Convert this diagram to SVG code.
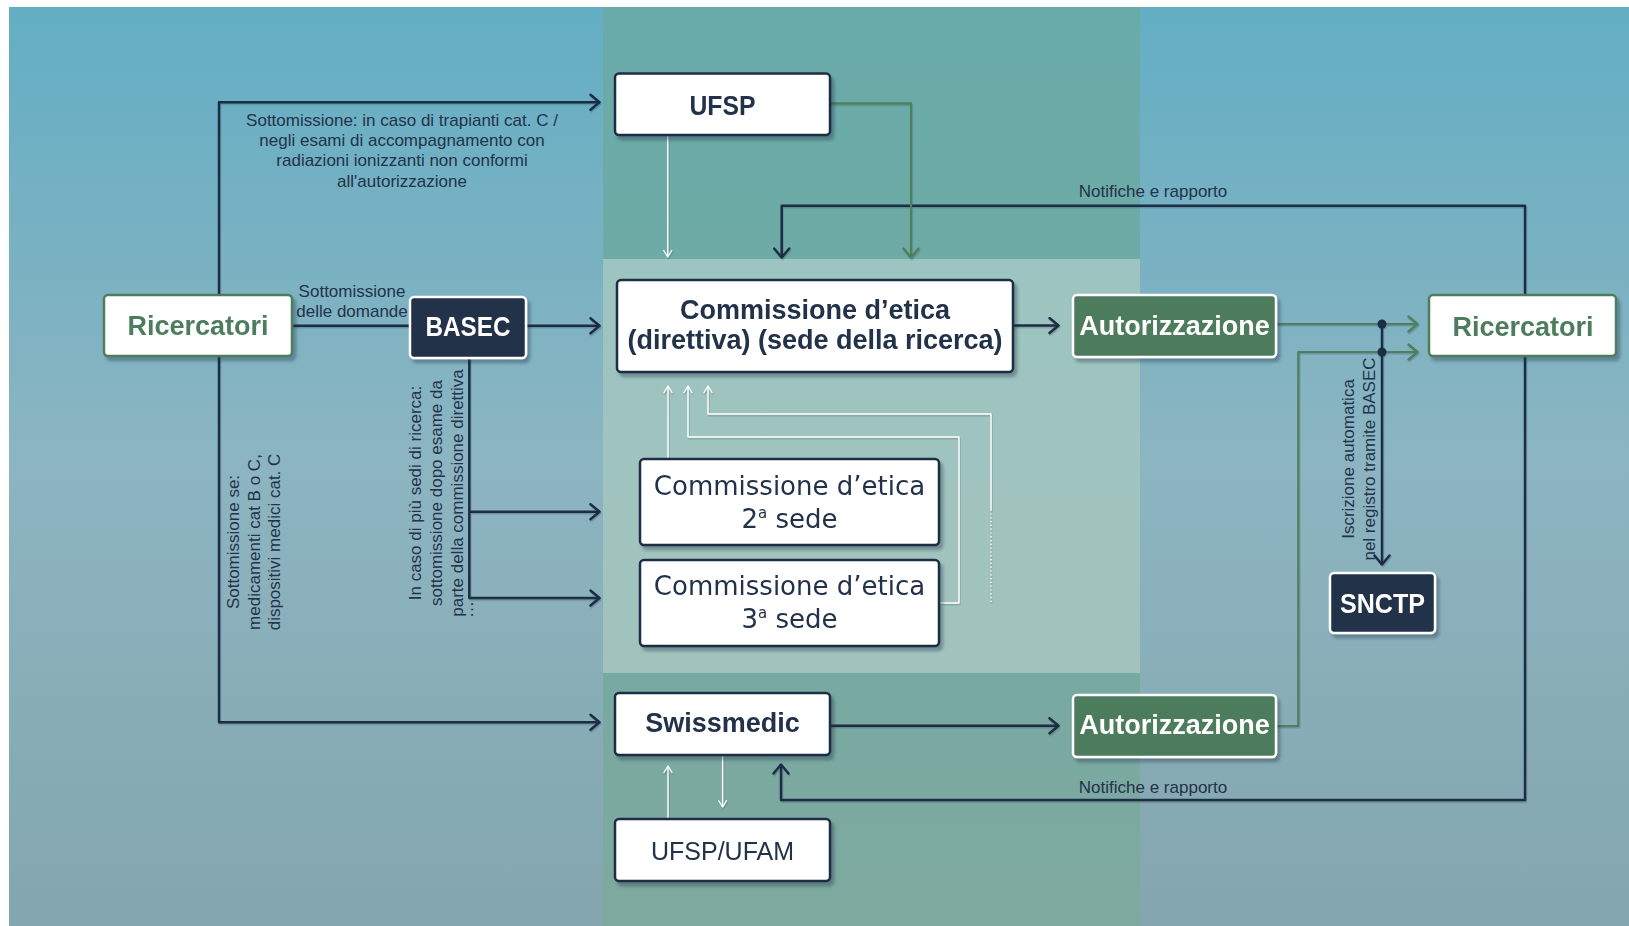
<svg xmlns="http://www.w3.org/2000/svg" width="1629" height="926" viewBox="0 0 1629 926">
<defs>
<linearGradient id="bgSide" x1="0" y1="0" x2="0" y2="1">
<stop offset="0" stop-color="#63aec4"/>
<stop offset="0.5" stop-color="#8cb5c1"/>
<stop offset="1" stop-color="#84a6ae"/>
</linearGradient>
<linearGradient id="bgMid" x1="0" y1="0" x2="0" y2="1">
<stop offset="0" stop-color="#68aba9"/>
<stop offset="1" stop-color="#7ea99f"/>
</linearGradient>
<linearGradient id="bgLight" x1="0" y1="0" x2="0" y2="1">
<stop offset="0" stop-color="#9dc4c0"/>
<stop offset="1" stop-color="#a2c3bd"/>
</linearGradient>
<marker id="ad" markerUnits="userSpaceOnUse" viewBox="0 0 12 18" markerWidth="12" markerHeight="18" refX="11" refY="9" orient="auto-start-reverse">
<path d="M1.5,1.5 L10.5,9 L1.5,16.5" fill="none" stroke="#1f2d45" stroke-width="2.5" stroke-linecap="round" stroke-linejoin="round"/>
</marker>
<marker id="ag" markerUnits="userSpaceOnUse" viewBox="0 0 12 18" markerWidth="12" markerHeight="18" refX="11" refY="9" orient="auto-start-reverse">
<path d="M1.5,1.5 L10.5,9 L1.5,16.5" fill="none" stroke="#4f7f5b" stroke-width="2.3" stroke-linecap="round" stroke-linejoin="round"/>
</marker>
<marker id="aw" markerUnits="userSpaceOnUse" viewBox="0 0 10 10" markerWidth="10" markerHeight="10" refX="8.5" refY="5" orient="auto">
<path d="M2,1 L8.5,5 L2,9" fill="none" stroke="#ffffff" stroke-width="1.3" stroke-linecap="round" stroke-linejoin="round"/>
</marker>
<filter id="bsh" x="-10%" y="-10%" width="130%" height="140%">
<feDropShadow dx="3" dy="4" stdDeviation="1.5" flood-color="#1e2d3c" flood-opacity="0.35"/>
</filter>
<filter id="lsh" x="-5%" y="-5%" width="110%" height="110%">
<feDropShadow dx="0.8" dy="1.5" stdDeviation="0.6" flood-color="#1e2d3c" flood-opacity="0.25"/>
</filter>
</defs>
<style>
.wb{fill:#ffffff;stroke:#1f2d45;stroke-width:2.5}
.gb{fill:#4e7b5b;stroke:#ffffff;stroke-width:2.5}
.db{fill:#22304a;stroke:#ffffff;stroke-width:2.5}
.rb{fill:#ffffff;stroke:#4e7d5c;stroke-width:2.5}
.lbl{font-family:"Liberation Sans",Arial,sans-serif;font-size:17px;fill:#24324a}
.bt{font-family:"Liberation Sans",Arial,sans-serif;font-weight:bold;font-size:27px;text-anchor:middle}
.nv{fill:#22304a}
.wt{fill:#ffffff}
.gt{fill:#4e7d5c}
.vt{font-family:"DejaVu Sans",Verdana,sans-serif;font-size:26px;fill:#22304a;text-anchor:middle}
.cd{fill:none;stroke:#1f2d45;stroke-width:2.5;stroke-linejoin:round}
.cg{fill:none;stroke:#4f7f5b;stroke-width:2.2;stroke-linejoin:round}
.cw{fill:none;stroke:#ffffff;stroke-width:1.4;stroke-linejoin:round}
</style>

<g id="background">
<rect x="0" y="0" width="1629" height="926" fill="#ffffff"/>
<rect x="9" y="7" width="1620" height="919" fill="url(#bgSide)"/>
<rect x="603" y="7" width="537" height="919" fill="url(#bgMid)"/>
<rect x="603" y="259" width="537" height="414" fill="url(#bgLight)"/>
</g>

<g id="connectors" filter="url(#lsh)">
<path class="cd" d="M292,325.7 H410"/>
<path class="cd" d="M526,325.7 H600" marker-end="url(#ad)"/>
<path class="cd" d="M219,325 V102.3 H600" marker-end="url(#ad)"/>
<path class="cd" d="M219,325 V722.3 H600" marker-end="url(#ad)"/>
<path class="cd" d="M469.3,358 V598 H600" marker-end="url(#ad)"/>
<path class="cd" d="M469.3,511.7 H600" marker-end="url(#ad)"/>
<path class="cd" d="M1013,325.5 H1059" marker-end="url(#ad)"/>
<path class="cd" d="M830,725.7 H1059" marker-end="url(#ad)"/>
<path class="cd" d="M781.7,258 V205.7 H1525 V800 H781 V764" marker-start="url(#ad)" marker-end="url(#ad)"/>
<path class="cd" d="M1382,324 V565" marker-end="url(#ad)"/>
<path class="cg" d="M1276,324 H1418" marker-end="url(#ag)"/>
<path class="cg" d="M1276,726 H1298.3 V352 H1418" marker-end="url(#ag)"/>
<path class="cg" d="M830,103.3 H911 V258" marker-end="url(#ag)"/>
<circle cx="1382" cy="324" r="4.5" fill="#1f2d45"/>
<circle cx="1382" cy="352" r="4.5" fill="#1f2d45"/>
<path class="cw" d="M667.7,135 V257" marker-end="url(#aw)"/>
<path class="cw" d="M668,459 V386" marker-end="url(#aw)"/>
<path class="cw" d="M940,603 H959 V437 H688 V386" marker-end="url(#aw)"/>
<path class="cw" d="M991,510 V414 H708 V386" marker-end="url(#aw)"/>
<path class="cw" d="M991,602 V510" stroke-dasharray="1.2 2.6"/>
<path class="cw" d="M668,818 V766" marker-end="url(#aw)"/>
<path class="cw" d="M722.6,756 V807" marker-end="url(#aw)"/>
</g>

<g id="labels">
<text class="lbl" text-anchor="middle" x="402" y="125.7">Sottomissione: in caso di trapianti cat. C /<tspan x="402" dy="20.3">negli esami di accompagnamento con</tspan><tspan x="402" dy="20.3">radiazioni ionizzanti non conformi</tspan><tspan x="402" dy="20.3">all'autorizzazione</tspan></text>
<text class="lbl" text-anchor="middle" x="352" y="297">Sottomissione<tspan x="352" dy="20">delle domande</tspan></text>
<text class="lbl" text-anchor="middle" transform="translate(239,542) rotate(-90)">Sottomissione se:<tspan x="0" dy="20.7">medicamenti cat B o C,</tspan><tspan x="0" dy="20.7">dispositivi medici cat. C</tspan></text>
<text class="lbl" text-anchor="middle" transform="translate(421,493) rotate(-90)">In caso di più sedi di ricerca:<tspan x="0" dy="21">sottomissione dopo esame da</tspan><tspan x="0" dy="21">parte della commissione direttiva</tspan></text>
<text class="lbl" transform="translate(472.5,618) rotate(-90)">…</text>
<text class="lbl" text-anchor="middle" font-size="16.5" transform="translate(1354,459) rotate(-90)">Iscrizione automatica<tspan x="0" dy="21">nel registro tramite BASEC</tspan></text>
<text class="lbl" text-anchor="middle" x="1153" y="197.3">Notifiche e rapporto</text>
<text class="lbl" text-anchor="middle" x="1153" y="793">Notifiche e rapporto</text>
</g>

<g id="ricercatori-left" filter="url(#bsh)">
<rect class="rb" x="104" y="295" width="188" height="61" rx="4"/>
<text class="bt gt" x="198" y="335">Ricercatori</text>
</g>
<g id="basec" filter="url(#bsh)">
<rect class="db" x="410" y="297" width="116" height="61" rx="4"/>
<text class="bt wt" x="468" y="336" textLength="85" lengthAdjust="spacingAndGlyphs">BASEC</text>
</g>
<g id="ufsp" filter="url(#bsh)">
<rect class="wb" x="615" y="73.5" width="215" height="61.5" rx="4"/>
<text class="bt nv" x="722.5" y="115" textLength="66" lengthAdjust="spacingAndGlyphs">UFSP</text>
</g>
<g id="commissione-direttiva" filter="url(#bsh)">
<rect class="wb" x="617" y="280" width="396" height="92" rx="4"/>
<text class="bt nv" x="815" y="319">Commissione d’etica</text>
<text class="bt nv" x="815" y="349">(direttiva) (sede della ricerca)</text>
</g>
<g id="commissione-2" filter="url(#bsh)">
<rect class="wb" x="640" y="459" width="299" height="86" rx="4" stroke-width="1.8"/>
<text class="vt" x="789.5" y="495">Commissione d’etica</text>
<text class="vt" x="789.5" y="528">2<tspan font-size="15" dy="-10">a</tspan><tspan dy="10"> sede</tspan></text>
</g>
<g id="commissione-3" filter="url(#bsh)">
<rect class="wb" x="640" y="560" width="299" height="86" rx="4" stroke-width="1.8"/>
<text class="vt" x="789.5" y="595">Commissione d’etica</text>
<text class="vt" x="789.5" y="628">3<tspan font-size="15" dy="-10">a</tspan><tspan dy="10"> sede</tspan></text>
</g>
<g id="autorizzazione-1" filter="url(#bsh)">
<rect class="gb" x="1073" y="295" width="203" height="62" rx="4"/>
<text class="bt wt" x="1174.5" y="334.5">Autorizzazione</text>
</g>
<g id="ricercatori-right" filter="url(#bsh)">
<rect class="rb" x="1429" y="295" width="187" height="61" rx="4"/>
<text class="bt gt" x="1523" y="336">Ricercatori</text>
</g>
<g id="snctp" filter="url(#bsh)">
<rect class="db" x="1330" y="573" width="105" height="60" rx="4"/>
<text class="bt wt" x="1382.5" y="613" textLength="85" lengthAdjust="spacingAndGlyphs">SNCTP</text>
</g>
<g id="swissmedic" filter="url(#bsh)">
<rect class="wb" x="615" y="693" width="215" height="62" rx="4"/>
<text class="bt nv" x="722.5" y="732">Swissmedic</text>
</g>
<g id="autorizzazione-2" filter="url(#bsh)">
<rect class="gb" x="1073" y="695" width="203" height="62" rx="4"/>
<text class="bt wt" x="1174.5" y="733.5">Autorizzazione</text>
</g>
<g id="ufsp-ufam" filter="url(#bsh)">
<rect class="wb" x="615" y="819" width="215" height="62" rx="4"/>
<text x="722.5" y="860" font-family="'Liberation Sans',Arial,sans-serif" font-size="25" fill="#22304a" text-anchor="middle">UFSP/UFAM</text>
</g>
</svg>
